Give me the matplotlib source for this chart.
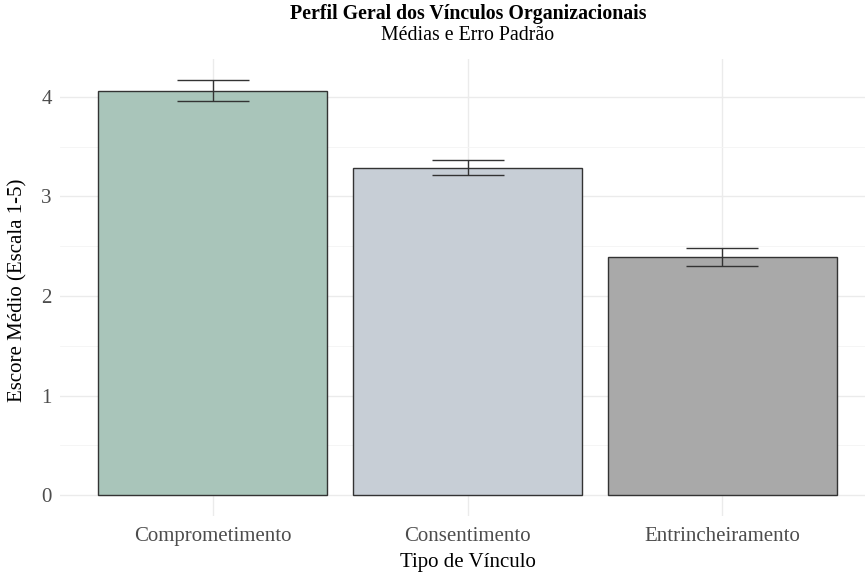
import matplotlib
matplotlib.use("Agg")
import matplotlib.pyplot as plt
import numpy as np

categories = ["Comprometimento", "Consentimento", "Entrincheiramento"]
means = [4.06, 3.29, 2.39]
errors = [0.105, 0.078, 0.09]
colors = ["#A9C5BA", "#C7CED6", "#A9A9A9"]
yticks = [0, 1, 2, 3, 4]

plt.rcParams['font.family'] = ['Liberation Serif', 'DejaVu Serif']

W, H = 865, 573
fig = plt.figure(figsize=(W/100, H/100), dpi=100)
# panel in pixel coords: left 60, right 875, top 59, bottom 516
l, r, t, b = 60, 875, 59, 516
ax = fig.add_axes([l/W, 1 - b/H, (r-l)/W, (b-t)/H])

x = np.arange(len(categories))
ax.bar(x, means, width=0.9, color=colors, edgecolor="#333333", linewidth=1.0, zorder=3)
ax.errorbar(x, means, yerr=errors, fmt='none', ecolor="#333333", elinewidth=1.0,
            capsize=26, capthick=1.0, zorder=4)

ax.set_xlim(-0.6, 2.6)
ax.set_ylim(-0.21, 4.38)
ax.set_yticks(yticks)
ax.set_yticks([0.5, 1.5, 2.5, 3.5], minor=True)
ax.set_xticks(x)
ax.set_xticklabels(categories)
ax.grid(which='major', color="#EBEBEB", linewidth=1.0, zorder=0)
ax.grid(which='minor', axis='y', color="#F4F4F4", linewidth=0.6, zorder=0)
ax.set_axisbelow(True)
for s in ax.spines.values():
    s.set_visible(False)
ax.tick_params(which='both', length=0, labelsize=15, labelcolor="#4D4D4D", pad=6)
ax.tick_params(axis='x', pad=8)

fig.text(468/W, 1 - 563/H, "Tipo de Vínculo", ha='center', va='center', fontsize=15, color="black")
fig.text(18/W, 1 - 290/H, "Escore Médio (Escala 1-5)", ha='center', va='center', fontsize=15,
         rotation=90, color="black")
fig.text(468/W, 1 - 14/H, "Perfil Geral dos Vínculos Organizacionais", ha='center', va='center',
         fontsize=14.3, fontweight='bold', color="black")
fig.text(468/W, 1 - 36/H, "Médias e Erro Padrão", ha='center', va='center', fontsize=14.3, color="black")

fig.savefig("out.png", dpi=100, facecolor="white")
